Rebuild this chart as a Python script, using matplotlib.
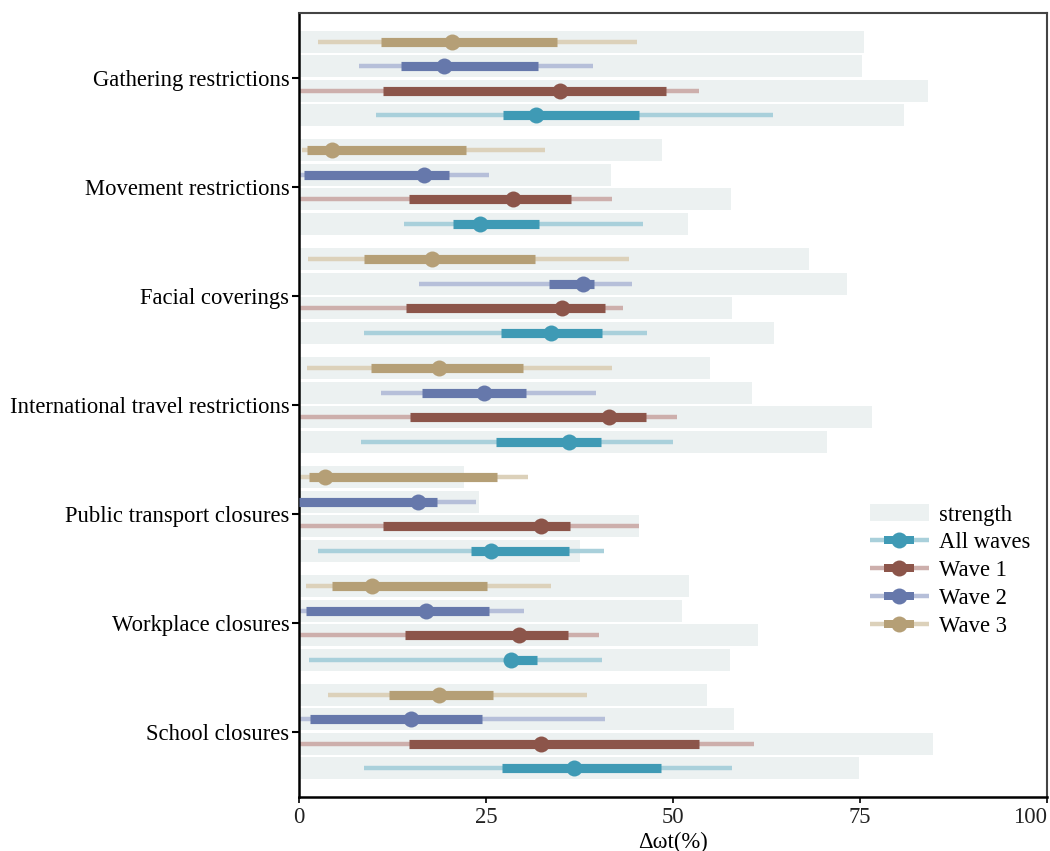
import matplotlib
matplotlib.use("Agg")
import matplotlib.pyplot as plt
import numpy as np
from matplotlib.lines import Line2D
from matplotlib.patches import Patch
from matplotlib.path import Path
from matplotlib.legend_handler import HandlerTuple

plt.rcParams['font.family'] = ['Liberation Serif', 'DejaVu Serif']

categories = ["Gathering restrictions", "Movement restrictions", "Facial coverings",
              "International travel restrictions", "Public transport closures",
              "Workplace closures", "School closures"]
series_names = ["Wave 3", "Wave 2", "Wave 1", "All waves"]

# Wave 3
w3_point = [20.5, 4.4, 17.8, 18.7, 3.5, 9.8, 18.7]
w3_lo50 = [11.0, 1.1, 8.7, 9.6, 1.3, 4.4, 12.0]
w3_hi50 = [34.5, 22.3, 31.6, 29.9, 26.5, 25.1, 26.0]
w3_lo95 = [2.5, 0.4, 1.2, 1.1, 0.0, 0.9, 3.9]
w3_hi95 = [45.2, 32.9, 44.1, 41.8, 30.6, 33.7, 38.5]
w3_strength = [75.5, 48.5, 68.2, 54.9, 22.1, 52.1, 54.5]

# Wave 2
w2_point = [19.4, 16.7, 38.0, 24.7, 15.9, 17.0, 15.0]
w2_lo50 = [13.6, 0.7, 33.4, 16.4, 0.0, 0.9, 1.5]
w2_hi50 = [32.0, 20.1, 39.4, 30.3, 18.5, 25.4, 24.5]
w2_lo95 = [8.0, 0.0, 16.0, 11.0, 0.0, 0.0, 0.0]
w2_hi95 = [39.3, 25.4, 44.5, 39.7, 23.7, 30.1, 40.9]
w2_strength = [75.3, 41.7, 73.3, 60.6, 24.1, 51.2, 58.2]

# Wave 1
w1_point = [34.9, 28.6, 35.2, 41.4, 32.4, 29.4, 32.4]
w1_lo50 = [11.2, 14.7, 14.3, 14.8, 11.2, 14.2, 14.7]
w1_hi50 = [49.0, 36.4, 40.9, 46.4, 36.2, 36.0, 53.5]
w1_lo95 = [0.0, 0.0, 0.0, 0.0, 0.0, 0.0, 0.0]
w1_hi95 = [53.5, 41.8, 43.3, 50.5, 45.5, 40.1, 60.8]
w1_strength = [84.1, 57.7, 57.9, 76.6, 45.5, 61.4, 84.8]

# All waves
all_point = [31.7, 24.2, 33.7, 36.1, 25.7, 28.3, 36.8]
all_lo50 = [27.3, 20.6, 27.0, 26.3, 23.0, 27.8, 27.1]
all_hi50 = [45.5, 32.1, 40.5, 40.4, 36.1, 31.8, 48.4]
all_lo95 = [10.3, 14.0, 8.7, 8.3, 2.5, 1.3, 8.7]
all_hi95 = [63.4, 46.0, 46.5, 50.0, 40.8, 40.5, 57.9]
all_strength = [80.9, 52.0, 63.5, 70.6, 37.6, 57.6, 74.9]

x_ticks = [0, 25, 50, 75, 100]
x_tick_labels = ["0", "25", "50", "75", "100"]

dark_colors = {"All waves": "#3F9AB5", "Wave 1": "#8C554A", "Wave 2": "#6678AB", "Wave 3": "#B59F76"}
light_colors = {"All waves": "#A9D0DB", "Wave 1": "#CDAFAC", "Wave 2": "#B6BFD9", "Wave 3": "#DCD1BA"}
strength_color = "#ECF1F1"

data = {
    "Wave 3": (w3_point, w3_lo50, w3_hi50, w3_lo95, w3_hi95, w3_strength),
    "Wave 2": (w2_point, w2_lo50, w2_hi50, w2_lo95, w2_hi95, w2_strength),
    "Wave 1": (w1_point, w1_lo50, w1_hi50, w1_lo95, w1_hi95, w1_strength),
    "All waves": (all_point, all_lo50, all_hi50, all_lo95, all_hi95, all_strength),
}

FS = 16.3
fig = plt.figure(figsize=(10.5, 8.51), dpi=100)
ax = fig.add_axes([299/1050, 1-797/851, (1047-299)/1050, (797-13)/851])

d = 0.225
bar_h = 0.202
offsets = {"Wave 3": -1.5*d, "Wave 2": -0.5*d, "Wave 1": 0.5*d, "All waves": 1.5*d}
base = np.arange(len(categories))

thin_lw = 3.2
thick_lw = 6.6
msize = 11.5

for name in series_names:
    pt, lo50, hi50, lo95, hi95, st = data[name]
    y = base + offsets[name]
    ax.barh(y, st, height=bar_h, left=0, color=strength_color, zorder=1)
for name in series_names:
    pt, lo50, hi50, lo95, hi95, st = data[name]
    y = base + offsets[name]
    for i in range(len(categories)):
        ax.plot([lo95[i], hi95[i]], [y[i], y[i]], color=light_colors[name], lw=thin_lw,
                solid_capstyle='butt', zorder=2)
        ax.plot([lo50[i], hi50[i]], [y[i], y[i]], color=dark_colors[name], lw=thick_lw,
                solid_capstyle='butt', zorder=3)
    ax.plot(pt, y, 'o', color=dark_colors[name], markersize=msize, markeredgewidth=0, zorder=4)

ax.set_xlim(0, 100)
ax.set_ylim(6.6, -0.6)
ax.set_yticks(base)
ax.set_yticklabels(categories, fontsize=FS)
ax.set_xticks(x_ticks)
ax.set_xticklabels(x_tick_labels, fontsize=FS, color="#222222")
ax.get_xticklabels()[-1].set_horizontalalignment('right')
ax.tick_params(axis='y', length=5, width=1.5, pad=2, colors='black')
ax.tick_params(axis='x', length=4, width=1.2, pad=3)
ax.set_xlabel("\u0394\u03c9t(%)", fontsize=FS, labelpad=3)
for s in ['top', 'right']:
    ax.spines[s].set_color('#444444')
    ax.spines[s].set_linewidth(1.5)
for s in ['left', 'bottom']:
    ax.spines[s].set_color('black')
    ax.spines[s].set_linewidth(1.8)

rect = Path([(-1, -0.3), (1, -0.3), (1, 0.3), (-1, 0.3), (-1, -0.3)],
            [Path.MOVETO, Path.LINETO, Path.LINETO, Path.LINETO, Path.CLOSEPOLY])
handles = [Patch(facecolor=strength_color, edgecolor='none')]
labels = ["strength"]
for name in ["All waves", "Wave 1", "Wave 2", "Wave 3"]:
    h_thin = Line2D([], [], color=light_colors[name], lw=thin_lw, solid_capstyle='butt')
    h_rect = Line2D([], [], ls='none', marker=rect, markersize=21, color=dark_colors[name],
                    markeredgewidth=0)
    h_pt = Line2D([], [], ls='none', marker='o', markersize=msize, color=dark_colors[name],
                  markeredgewidth=0)
    handles.append((h_thin, h_rect, h_pt))
    labels.append(name)

leg = ax.legend(handles, labels, handler_map={tuple: HandlerTuple(ndivide=1)},
                loc='upper left', bbox_to_anchor=(870/1050, 1-504/851),
                bbox_transform=fig.transFigure, frameon=False, fontsize=FS,
                handlelength=2.6, handleheight=0.8, handletextpad=0.45, labelspacing=0.28,
                numpoints=1, borderaxespad=0, borderpad=0)

fig.savefig("out.png", dpi=100)
